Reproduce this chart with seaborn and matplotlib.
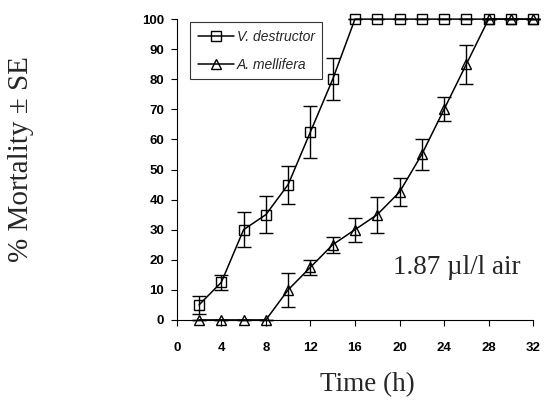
import numpy as np
import pandas as pd
import seaborn as sns
import matplotlib.pyplot as plt

# Time points (h)
time_vd = [2, 4, 6, 8, 10, 12, 14, 16, 18, 20, 22, 24, 26, 28, 30, 32]
time_am = [2, 4, 6, 8, 10, 12, 14, 16, 18, 20, 22, 24, 26, 28, 30, 32]

# % mortality and standard errors
mort_vd = [5, 12.5, 30, 35, 45, 62.5, 80, 100, 100, 100, 100, 100, 100, 100, 100, 100]
se_vd = [3, 2.5, 5.8, 6.2, 6.3, 8.7, 7, 0, 0, 0, 0, 0, 0, 0, 0, 0]
mort_am = [0, 0, 0, 0, 10, 17.5, 25, 30, 35, 42.5, 55, 70, 85, 100, 100, 100]
se_am = [0, 0, 0, 0, 5.7, 2.5, 2.7, 4, 6, 4.6, 5, 4, 6.5, 0, 0, 0]

x_ticks = [0, 4, 8, 12, 16, 20, 24, 28, 32]
y_ticks = [0, 10, 20, 30, 40, 50, 60, 70, 80, 90, 100]

vd = pd.DataFrame({"time": time_vd, "mort": mort_vd, "se": se_vd})
am = pd.DataFrame({"time": time_am, "mort": mort_am, "se": se_am})

sns.set_style("ticks")
plt.rcParams['font.family'] = ['Liberation Sans', 'DejaVu Sans']

fig = plt.figure(figsize=(5.44, 4.07), dpi=100)
ax = fig.add_axes([0.325, 0.214, 0.655, 0.739])

for df, mk, lab in [(vd, 's', 'V. destructor'), (am, '^', 'A. mellifera')]:
    ax.errorbar(df["time"], df["mort"], yerr=df["se"], fmt='none', ecolor='black',
                elinewidth=1, capsize=5, capthick=1, zorder=2, clip_on=False)
    sns.lineplot(data=df, x="time", y="mort", ax=ax, color='black', linewidth=1.1,
                 marker=mk, markersize=7.5, markerfacecolor='none',
                 markeredgecolor='black', markeredgewidth=1, label=lab,
                 zorder=3, clip_on=False)

ax.set_xlim(0, 32)
ax.set_ylim(0, 100)
ax.set_xticks(x_ticks)
ax.set_yticks(y_ticks)
ax.tick_params(axis='both', direction='out', length=4, width=0.8, colors='black',
               labelsize=9.5)
for t in ax.get_xticklabels() + ax.get_yticklabels():
    t.set_fontweight('bold')
ax.xaxis.set_tick_params(pad=12)
ax.yaxis.set_tick_params(pad=5)
for s in ['top', 'right']:
    ax.spines[s].set_visible(False)
for s in ['left', 'bottom']:
    ax.spines[s].set_color('black')
    ax.spines[s].set_linewidth(0.8)

ax.set_xlabel("Time (h)", fontsize=19.5, family='Liberation Serif')
ax.set_ylabel("% Mortality ± SE", fontsize=21, family='Liberation Serif')
ax.xaxis.set_label_coords(0.534, -0.175)
ax.yaxis.set_label_coords(-0.402, 0.535)

ax.text(25.1, 17.3, "1.87 µl/l air", fontsize=19.5, family='Liberation Serif',
        ha='center', va='center')

leg = ax.legend(loc='upper left', bbox_to_anchor=(0.037, 0.99), frameon=True,
                fancybox=False, edgecolor='black', handlelength=2.6,
                prop={'style': 'italic', 'size': 10}, borderpad=0.55,
                labelspacing=1.0, handletextpad=0.2, borderaxespad=0)
leg.get_frame().set_linewidth(0.8)

fig.savefig("out.png", dpi=100)
